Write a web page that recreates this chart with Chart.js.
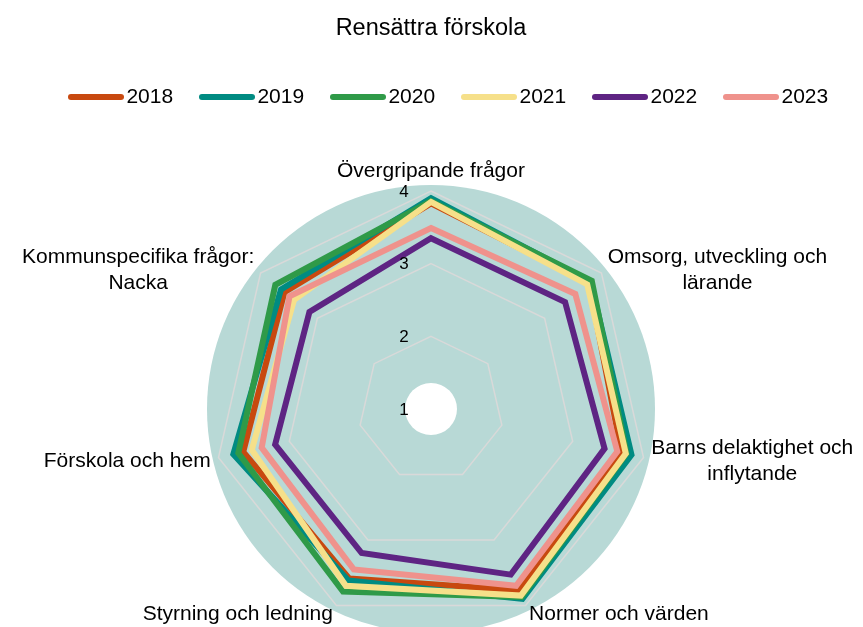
<!DOCTYPE html>
<html>
<head>
<meta charset="utf-8">
<script src="https://cdn.jsdelivr.net/npm/chart.js@4/dist/chart.umd.min.js"></script>
<style>
html,body{margin:0;padding:0;background:#fff;overflow:hidden}
canvas{display:block}
</style>
</head>
<body>
<canvas id="c" width="863" height="627"></canvas>
<script>
// ---- data ----
const categories = [
  'Övergripande frågor',
  ['Omsorg, utveckling och', 'lärande'],
  ['Barns delaktighet och', 'inflytande'],
  'Normer och värden',
  'Styrning och ledning',
  'Förskola och hem',
  ['Kommunspecifika frågor:', 'Nacka']
];
const years = ['2018', '2019', '2020', '2021', '2022', '2023'];
const v2018 = [3.83, 3.78, 3.69, 3.77, 3.59, 3.65, 3.58];
const v2019 = [3.90, 3.81, 3.83, 3.90, 3.62, 3.79, 3.64];
const v2020 = [3.86, 3.83, 3.76, 3.87, 3.79, 3.72, 3.74];
const v2021 = [3.85, 3.75, 3.75, 3.85, 3.70, 3.53, 3.41];
const v2022 = [3.35, 3.36, 3.45, 3.53, 3.20, 3.20, 3.14];
const v2023 = [3.49, 3.54, 3.63, 3.70, 3.45, 3.39, 3.49];
const tickValues = [1, 2, 3, 4];

const series = [v2018, v2019, v2020, v2021, v2022, v2023];
const colors = ['#C8490F', '#008B82', '#2F9A48', '#F6E08A', '#5E2483', '#EF928C'];
const FONT = '"Liberation Sans", Arial, sans-serif';

// rounded line used as legend marker
function legendMark(color){
  const c = document.createElement('canvas');
  c.width = 56; c.height = 8;
  const g = c.getContext('2d');
  g.strokeStyle = color;
  g.lineWidth = 6;
  g.lineCap = 'round';
  g.beginPath(); g.moveTo(3, 4); g.lineTo(53, 4); g.stroke();
  return c;
}

// circle background, tick labels and category labels
const decor = {
  id: 'decor',
  beforeDraw(chart){
    const s = chart.scales.r, ctx = chart.ctx;
    ctx.save();
    ctx.fillStyle = '#B8D9D6';
    ctx.beginPath(); ctx.arc(s.xCenter, s.yCenter, s.drawingArea + 6, 0, Math.PI * 2); ctx.fill();
    ctx.fillStyle = '#fff';
    ctx.beginPath(); ctx.arc(s.xCenter, s.yCenter, 26, 0, Math.PI * 2); ctx.fill();
    ctx.restore();
  },
  afterDatasetsDraw(chart){
    const s = chart.scales.r, ctx = chart.ctx;
    ctx.save();
    ctx.font = '17px ' + FONT;
    ctx.fillStyle = '#000';
    ctx.textAlign = 'center';
    ctx.textBaseline = 'middle';
    tickValues.forEach(v => {
      ctx.fillText(String(v), s.xCenter - 27, s.yCenter - s.getDistanceFromCenterForValue(v) + 1);
    });
    ctx.restore();
  },
  afterDraw(chart){
    const s = chart.scales.r, ctx = chart.ctx;
    const lineH = 26;
    ctx.save();
    ctx.font = '21px ' + FONT;
    ctx.fillStyle = '#000';
    ctx.textAlign = 'center';
    ctx.textBaseline = 'middle';
    chart.data.labels.forEach((lab, i) => {
      const lines = Array.isArray(lab) ? lab : [lab];
      const p = s.getPointPosition(i, s.drawingArea + 8);
      const deg = ((p.angle * 180 / Math.PI) + 90 + 360) % 360;
      const bw = Math.max(...lines.map(t => ctx.measureText(t).width));
      let left, top;
      if (deg < 1 || deg > 359) {
        left = p.x - bw / 2;
        top = p.y + 1 - lines.length * lineH;
      } else {
        left = deg < 180 ? p.x : p.x - bw;
        top = p.y + 2 - lines.length * lineH / 2;
      }
      lines.forEach((t, k) => ctx.fillText(t, left + bw / 2, top + lineH * (k + 0.5)));
    });
    ctx.restore();
  }
};

const datasets = years.map((y, i) => ({
  label: y,
  data: series[i],
  borderColor: colors[i],
  backgroundColor: colors[i],
  borderWidth: 6,
  borderJoinStyle: 'miter',
  fill: false,
  pointRadius: 0,
  pointHoverRadius: 0,
  order: years.length - 1 - i
}));

new Chart(document.getElementById('c'), {
  type: 'radar',
  data: { labels: categories, datasets },
  plugins: [decor],
  options: {
    responsive: false,
    animation: false,
    layout: { padding: { left: 0, right: 1, top: 0, bottom: 0 } },
    elements: { line: { tension: 0 } },
    scales: {
      r: {
        min: 1,
        max: 4,
        ticks: { stepSize: 1, display: false },
        grid: { color: '#D9D9D9', lineWidth: 1.5 },
        angleLines: { display: false },
        pointLabels: { display: false }
      }
    },
    plugins: {
      title: {
        display: true,
        text: 'Rensättra förskola',
        color: '#000',
        font: { family: FONT, size: 23.5, weight: 'normal' },
        padding: { top: 14, bottom: 10.5 }
      },
      subtitle: {
        display: true,
        text: '',
        weight: 500,
        font: { size: 12, lineHeight: 1 },
        padding: { top: 61.5, bottom: 0 }
      },
      legend: {
        display: true,
        position: 'top',
        align: 'end',
        labels: {
          usePointStyle: true,
          pointStyleWidth: 40,
          padding: 33.8,
          color: '#000',
          font: { family: FONT, size: 21 },
          generateLabels: chart => chart.data.datasets.map((ds, i) => ({
            text: ds.label,
            fillStyle: ds.borderColor,
            strokeStyle: ds.borderColor,
            lineWidth: 0,
            pointStyle: legendMark(ds.borderColor),
            fontColor: '#000',
            hidden: !chart.isDatasetVisible(i),
            datasetIndex: i
          }))
        }
      },
      tooltip: { enabled: false }
    }
  }
});
</script>
</body>
</html>
